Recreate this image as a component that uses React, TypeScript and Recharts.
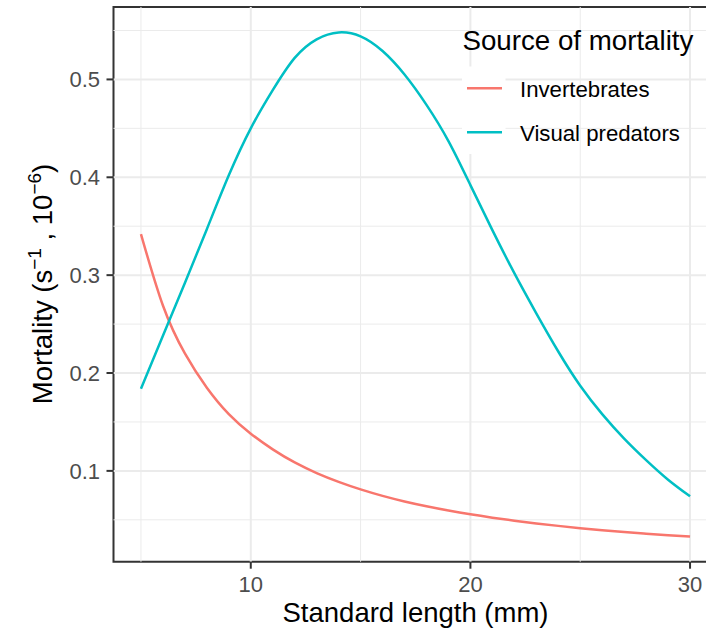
import React from 'react';
import { LineChart, Line, XAxis, YAxis, ReferenceLine, ReferenceArea } from 'recharts';

const lengths = [5, 6, 7, 8, 9, 10, 11, 12, 13, 14, 15, 16, 17, 18, 19, 20, 21, 22, 23, 24, 25, 26, 27, 28, 29, 30];
const invertebrates = [0.342, 0.269, 0.22, 0.185, 0.158, 0.138, 0.122, 0.1086, 0.0978, 0.0888, 0.0811, 0.0745, 0.0688, 0.0639, 0.0595, 0.0556, 0.0522, 0.0491, 0.0463, 0.0438, 0.0415, 0.0394, 0.0375, 0.0358, 0.0342, 0.0329];
const visualPredators = [0.184, 0.238, 0.292, 0.347, 0.402, 0.45, 0.489, 0.522, 0.541, 0.548, 0.544, 0.529, 0.505, 0.474, 0.437, 0.392, 0.346, 0.302, 0.261, 0.222, 0.187, 0.158, 0.133, 0.111, 0.091, 0.074];

const xMajor = [10, 20, 30];
const xMinor = [5, 15, 25];
const yMajor = [0.1, 0.2, 0.3, 0.4, 0.5];
const yMinor = [0.05, 0.15, 0.25, 0.35, 0.45, 0.55];

const seriesNames = ['Invertebrates', 'Visual predators'];
const seriesColors = ['#F8766D', '#00BFC4'];

const X_DOMAIN: [number, number] = [3.75, 31.25];
const Y_DOMAIN: [number, number] = [0.0072, 0.574];

const data = lengths.map((x, i) => ({ x, inv: invertebrates[i], vis: visualPredators[i] }));

const FONT = '"Liberation Sans", Arial, Helvetica, sans-serif';

export default function App() {
  return (
    <div style={{ position: 'absolute', left: 0, top: 0, width: 706, height: 630, overflow: 'hidden', background: '#fff', fontFamily: FONT }}>
      <LineChart
        width={730}
        height={630}
        data={data}
        margin={{ top: 7, right: 12.5, bottom: 38.3, left: 53.5 }}
      >
        {xMinor.map((v) => (
          <ReferenceLine key={'xm' + v} x={v} stroke="#EBEBEB" strokeWidth={1} />
        ))}
        {yMinor.map((v) => (
          <ReferenceLine key={'ym' + v} y={v} stroke="#EBEBEB" strokeWidth={1} />
        ))}
        {xMajor.map((v) => (
          <ReferenceLine key={'xM' + v} x={v} stroke="#EBEBEB" strokeWidth={2} />
        ))}
        {yMajor.map((v) => (
          <ReferenceLine key={'yM' + v} y={v} stroke="#EBEBEB" strokeWidth={2} />
        ))}
        <XAxis
          dataKey="x"
          type="number"
          domain={X_DOMAIN}
          allowDataOverflow
          ticks={xMajor}
          height={30}
          axisLine={false}
          tickSize={7}
          tickMargin={8}
          tickLine={{ stroke: '#333333', strokeWidth: 2 }}
          tick={{ fill: '#4D4D4D', fontSize: 22, fontFamily: FONT }}
          interval={0}
        />
        <YAxis
          type="number"
          domain={Y_DOMAIN}
          allowDataOverflow
          ticks={yMajor}
          width={60}
          axisLine={false}
          tickSize={7}
          tickMargin={6.5}
          tickLine={{ stroke: '#333333', strokeWidth: 2 }}
          tick={{ fill: '#4D4D4D', fontSize: 22, fontFamily: FONT }}
          tickFormatter={(v: number) => v.toFixed(1)}
          interval={0}
        />
        <Line dataKey="inv" name={seriesNames[0]} type="natural" stroke={seriesColors[0]} strokeWidth={2.5} dot={false} isAnimationActive={false} />
        <Line dataKey="vis" name={seriesNames[1]} type="natural" stroke={seriesColors[1]} strokeWidth={2.5} dot={false} isAnimationActive={false} />
        <ReferenceArea x1={X_DOMAIN[0]} x2={X_DOMAIN[1]} y1={Y_DOMAIN[0]} y2={Y_DOMAIN[1]} fill="none" stroke="#333333" strokeWidth={2} ifOverflow="visible" />
      </LineChart>
      <svg width={706} height={630} style={{ position: 'absolute', left: 0, top: 0, pointerEvents: 'none' }} fontFamily={FONT}>
        <text transform="translate(52,284) rotate(-90)" textAnchor="middle" fontSize={27.5} fill="#000">
          Mortality (s
          <tspan fontSize={19} dy={-11}>−1</tspan>
          <tspan dy={11}> , 10</tspan>
          <tspan fontSize={19} dy={-11}>−6</tspan>
          <tspan dy={11}>)</tspan>
        </text>
        <text x={415.5} y={622} textAnchor="middle" fontSize={27.5} fill="#000">Standard length (mm)</text>
        <text x={462.5} y={49.5} fontSize={27.7} fill="#000">Source of mortality</text>
        <rect x={462} y={66.5} width={43.5} height={87.5} fill="#fff" />
        {seriesNames.map((name, i) => (
          <g key={name}>
            <line x1={467} x2={502} y1={88.3 + i * 44} y2={88.3 + i * 44} stroke={seriesColors[i]} strokeWidth={2.5} />
            <text x={520} y={96.5 + i * 44} fontSize={22.2} fill="#000">{name}</text>
          </g>
        ))}
      </svg>
    </div>
  );
}
